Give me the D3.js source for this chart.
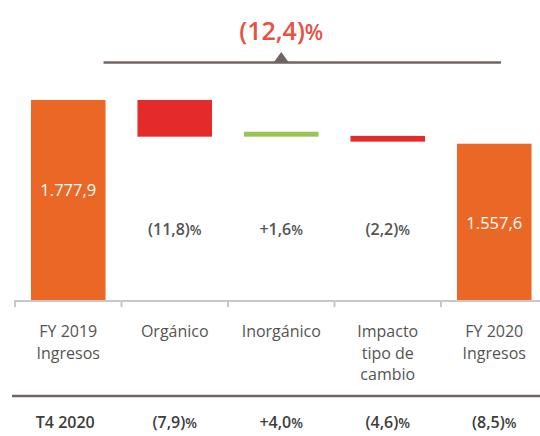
<!DOCTYPE html>
<html>
<head>
<meta charset="utf-8">
<script src="https://cdn.jsdelivr.net/npm/d3@7"></script>
<style>
  html, body { margin: 0; padding: 0; background: #fff; }
  svg { display: block; font-family: "Open Sans", "Noto Sans", sans-serif; }
</style>
</head>
<body>
<div></div>
<script>
const width = 540
const height = 436

// data
const categories = ['FY 2019 Ingresos', 'Orgánico', 'Inorgánico', 'Impacto tipo de cambio', 'FY 2020 Ingresos']
const categoryLines = [['FY 2019', 'Ingresos'], ['Orgánico'], ['Inorgánico'], ['Impacto', 'tipo de', 'cambio'], ['FY 2020', 'Ingresos']]
const totalCats = ['FY 2019 Ingresos', 'FY 2020 Ingresos']
const totalValues = [1777.9, 1557.6]
const totalLabels = ['1.777,9', '1.557,6']
const stepCats = ['Orgánico', 'Inorgánico', 'Impacto tipo de cambio']
const stepFrom = [1777.9, 1593, 1597]
const stepTo = [1593, 1618, 1568]
const stepLabels = ['(11,8)', '+1,6', '(2,2)']
const totalChange = '(12,4)'
const q4Title = 'T4 2020'
const q4Cats = ['Orgánico', 'Inorgánico', 'Impacto tipo de cambio', 'FY 2020 Ingresos']
const q4Labels = ['(7,9)', '+4,0', '(4,6)', '(8,5)']

const orange = '#eb6726'
const red = '#e52b2a'
const green = '#9cc455'
const grayText = '#545454'
const dark = '#6e6461'

let svg = d3.select('div').append('svg')
    .attr('width', width)
    .attr('height', height)

const x = d3.scaleBand()
    .domain(categories)
    .range([15, 547.5])
    .paddingInner(0.3)
    .paddingOuter(0.15)

const y = d3.scaleLinear()
    .domain([765, 1777.9])
    .range([301, 100])

const bw = x.bandwidth()
const cx = d => x(d) + bw / 2

// total bars
svg.selectAll('rect.total')
    .data(totalCats)
    .enter()
    .append('rect')
    .attr('class', 'total')
    .attr('x', d => x(d))
    .attr('width', bw)
    .attr('y', (d, i) => y(totalValues[i]))
    .attr('height', (d, i) => y(765) - y(totalValues[i]))
    .style('fill', orange)

svg.selectAll('text.total')
    .data(totalCats)
    .enter()
    .append('text')
    .attr('class', 'total')
    .attr('x', d => cx(d))
    .attr('y', (d, i) => i == 0 ? 196 : 229)
    .attr('text-anchor', 'middle')
    .style('fill', '#fff')
    .style('font-size', '16.5px')
    .style('font-weight', 500)
    .text((d, i) => totalLabels[i])

// step bars
svg.selectAll('rect.step')
    .data(stepCats)
    .enter()
    .append('rect')
    .attr('class', 'step')
    .attr('x', d => x(d))
    .attr('width', bw)
    .attr('y', (d, i) => y(Math.max(stepFrom[i], stepTo[i])))
    .attr('height', (d, i) => Math.abs(y(stepFrom[i]) - y(stepTo[i])))
    .style('fill', (d, i) => stepTo[i] > stepFrom[i] ? green : red)

function pctText(sel, txt) {
    sel.append('tspan').text(txt)
    sel.append('tspan').style('font-size', '0.85em').text('%')
}

svg.selectAll('text.step')
    .data(stepCats)
    .enter()
    .append('text')
    .attr('class', 'step')
    .attr('x', d => cx(d))
    .attr('y', 235)
    .attr('text-anchor', 'middle')
    .style('fill', grayText)
    .style('font-size', '16px')
    .style('font-weight', 600)
    .each(function(d, i) { pctText(d3.select(this), stepLabels[i]) })

// axis line with ticks at band edges
const axisY = y(765)
svg.append('line')
    .attr('x1', 14).attr('x2', width)
    .attr('y1', axisY).attr('y2', axisY)
    .style('stroke', '#cdc6c6')
    .style('stroke-width', 2)

svg.selectAll('line.tick')
    .data(categories)
    .enter()
    .append('line')
    .attr('class', 'tick')
    .attr('x1', d => x(d) - x.step() * x.paddingOuter())
    .attr('x2', d => x(d) - x.step() * x.paddingOuter())
    .attr('y1', axisY)
    .attr('y2', axisY + 6)
    .style('stroke', '#cdc6c6')
    .style('stroke-width', 2)

// category labels
let cat = svg.selectAll('text.cat')
    .data(categories)
    .enter()
    .append('text')
    .attr('class', 'cat')
    .attr('text-anchor', 'middle')
    .style('fill', grayText)
    .style('font-size', '16px')

cat.selectAll('tspan')
    .data((d, i) => categoryLines[i].map(l => ({ l: l, c: d })))
    .enter()
    .append('tspan')
    .attr('x', d => cx(d.c))
    .attr('y', (d, j) => 337 + j * 21.5)
    .text(d => d.l)

// separator
svg.append('line')
    .attr('x1', 12).attr('x2', width)
    .attr('y1', 396).attr('y2', 396)
    .style('stroke', dark)
    .style('stroke-width', 2.5)

// T4 2020 row
svg.append('text')
    .attr('x', cx(categories[0]) - 3)
    .attr('y', 428)
    .attr('text-anchor', 'middle')
    .style('fill', '#3d3d3d')
    .style('font-size', '16px')
    .style('font-weight', 600)
    .text(q4Title)

svg.selectAll('text.q4')
    .data(q4Cats)
    .enter()
    .append('text')
    .attr('class', 'q4')
    .attr('x', d => cx(d))
    .attr('y', 428)
    .attr('text-anchor', 'middle')
    .style('fill', '#3d3d3d')
    .style('font-size', '16px')
    .style('font-weight', 600)
    .each(function(d, i) { pctText(d3.select(this), q4Labels[i]) })

// total change bracket
const midX = cx(categories[2])
svg.append('line')
    .attr('x1', x(categories[0]) + bw - 2)
    .attr('x2', x(categories[4]) + bw * 0.59)
    .attr('y1', 62.5).attr('y2', 62.5)
    .style('stroke', dark)
    .style('stroke-width', 2.5)

svg.append('path')
    .attr('d', `M${midX - 8},63 L${midX},52 L${midX + 8},63 Z`)
    .style('fill', dark)

let title = svg.append('text')
    .attr('x', midX)
    .attr('y', 40)
    .attr('text-anchor', 'middle')
    .style('fill', '#e8503f')
    .style('font-size', '25px')
    .style('font-weight', 600)
title.append('tspan').text(totalChange)
title.append('tspan').style('font-size', '0.85em').text('%')
</script>
</body>
</html>
